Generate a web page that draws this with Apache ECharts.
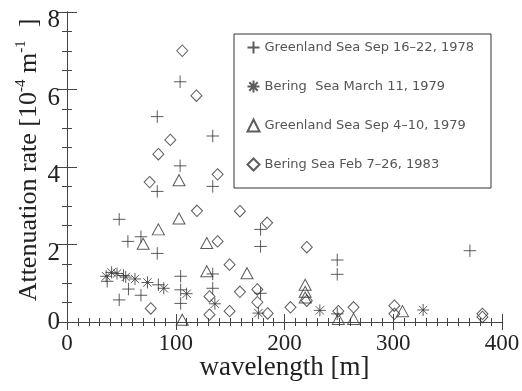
<!DOCTYPE html>
<html>
<head>
<meta charset="utf-8">
<script src="https://cdn.jsdelivr.net/npm/echarts@6/dist/echarts.min.js"></script>
<style>
html, body { margin: 0; padding: 0; background: #fff; }
#chart { width: 522px; height: 391px; }
</style>
</head>
<body>
<div id="chart"></div>
<script>
// Campaign names shown in the legend
const campaignNames = [
  'Greenland Sea Sep 16\u201322, 1978',
  'Bering  Sea March 11, 1979',
  'Greenland Sea Sep 4\u201310, 1979',
  'Bering Sea Feb 7\u201326, 1983'
];

// [wavelength (m), attenuation rate (1e-4 / m)]
const greenland1978 = [
  [104, 6.2], [83, 5.3], [134, 4.8], [104, 4.03], [134, 3.5], [83, 3.37],
  [48, 2.65], [56, 2.08], [68, 2.2], [83, 1.77], [178, 2.39], [178, 1.95],
  [370.5, 1.84], [248.5, 1.6], [248.5, 1.23], [134, 1.24], [104.5, 1.18],
  [104.5, 0.83], [104.5, 0.48], [134, 0.87], [178, 0.74], [56.5, 0.85],
  [68, 0.69], [48, 0.57], [84, 0.96], [248.5, 0.21], [37, 1.05], [52, 1.2]
];
const bering1979 = [
  [36, 1.18], [41, 1.28], [46, 1.25], [54, 1.16], [62.5, 1.11], [74, 1.02],
  [89, 0.87], [110, 0.73], [136, 0.47], [176, 0.23], [232.5, 0.3], [327.5, 0.31]
];
const greenland1979 = [
  [103, 3.66], [103, 2.67], [84, 2.39], [70, 2.02], [128.5, 2.04], [128.5, 1.31],
  [165.5, 1.26], [219, 0.96], [219, 0.78], [219, 0.63], [106, 0.06],
  [249.5, 0.08], [263.5, 0.08], [308.5, 0.28]
];
const bering1983 = [
  [106, 7.0], [119, 5.84], [95, 4.7], [84, 4.33], [138.5, 3.81], [76, 3.61],
  [119.5, 2.87], [159, 2.86], [138.5, 2.08], [184, 2.56], [220.5, 1.93],
  [149.5, 1.48], [175, 0.84], [159, 0.78], [131, 0.66], [131, 0.19],
  [149.5, 0.28], [77, 0.35], [175, 0.51], [184.5, 0.22], [205.5, 0.38],
  [220.5, 0.55], [249.5, 0.28], [263.5, 0.38], [301, 0.42], [301, 0.21],
  [382, 0.21], [382, 0.13]
];

// Axis tick labels
const xTickLabels = [0, 100, 200, 300, 400];
const yTickLabels = [0, 2, 4, 6, 8];

const ink = '#333';
const axisInk = '#444';
const serif = '"Liberation Serif", "DejaVu Serif", serif';

const plusPath = 'path://M0,5L10,5M5,0L5,10';
const starPath = 'path://M0,5L10,5M5,0L5,10M1.5,1.5L8.5,8.5M1.5,8.5L8.5,1.5';

function xAxisCfg(isMain) {
  return {
    type: 'value',
    position: isMain ? 'bottom' : 'top',
    min: xTickLabels[0],
    max: xTickLabels[xTickLabels.length - 1],
    interval: xTickLabels[1] - xTickLabels[0],
    axisLine: { show: true, lineStyle: { color: axisInk, width: 1 } },
    axisTick: { show: true, inside: true, length: 8, lineStyle: { color: axisInk } },
    minorTick: { show: true, splitNumber: 10, length: 4, lineStyle: { color: axisInk } },
    splitLine: { show: false },
    axisLabel: {
      show: isMain, margin: 10, color: '#222', fontFamily: serif, fontSize: 23
    },
    name: isMain ? 'wavelength [m]' : '',
    nameLocation: 'middle',
    nameGap: 32,
    nameMoveOverlap: false,
    nameTextStyle: { color: '#222', fontFamily: serif, fontSize: 27 }
  };
}

function yAxisCfg(isMain) {
  return {
    type: 'value',
    position: isMain ? 'left' : 'right',
    min: yTickLabels[0],
    max: yTickLabels[yTickLabels.length - 1],
    interval: yTickLabels[1] - yTickLabels[0],
    axisLine: { show: true, lineStyle: { color: axisInk, width: 1 } },
    axisTick: { show: true, inside: true, length: 10, lineStyle: { color: axisInk } },
    minorTick: { show: true, splitNumber: 4, length: 5, lineStyle: { color: axisInk } },
    splitLine: { show: false },
    axisLabel: {
      show: isMain, margin: 7, color: '#222', fontFamily: serif, fontSize: 25,
      // non-zero labels sit a little below their ticks
      formatter: v => (v === 0 ? '{z|' + v + '}' : '{sp| }{d|' + v + '}'),
      rich: {
        z: { fontFamily: serif, fontSize: 25, color: '#222' },
        sp: { fontSize: 2, lineHeight: 42 },
        d: { fontFamily: serif, fontSize: 25, color: '#222', lineHeight: 25, verticalAlign: 'bottom' }
      }
    },
    name: isMain ? '{n|Attenuation rate [10}{s|-4}{n| m}{s|-1}{n|  ]}' : '',
    nameLocation: 'middle',
    nameRotate: 90,
    nameGap: 25,
    nameMoveOverlap: false,
    nameTextStyle: {
      padding: [0, 0, 0, 14],
      rich: {
        n: { fontFamily: serif, fontSize: 26, color: '#222', lineHeight: 28, verticalAlign: 'bottom' },
        s: { fontFamily: serif, fontSize: 15, color: '#222', lineHeight: 15, verticalAlign: 'top' }
      }
    }
  };
}

function scatter(name, data, symbol, size) {
  return {
    type: 'scatter',
    name: name,
    data: data,
    xAxisIndex: 0,
    yAxisIndex: 0,
    symbol: symbol,
    symbolSize: size,
    clip: false,
    itemStyle: { color: 'none', borderColor: ink, borderWidth: 1 },
    emphasis: { disabled: true }
  };
}

const chart = echarts.init(document.getElementById('chart'), null, { renderer: 'canvas' });
chart.setOption({
  animation: false,
  backgroundColor: '#fff',
  grid: { left: 67, right: 20, top: 12, bottom: 69, outerBoundsMode: 'none' },
  xAxis: [xAxisCfg(true), xAxisCfg(false)],
  yAxis: [yAxisCfg(true), yAxisCfg(false)],
  legend: {
    orient: 'vertical',
    left: 234,
    top: 34,
    padding: [5, 17, 15, 11],
    itemGap: 22,
    itemWidth: 12,
    itemHeight: 12,
    borderColor: ink,
    borderWidth: 1,
    selectedMode: false,
    textStyle: { fontFamily: '"DejaVu Sans", sans-serif', fontSize: 13, color: '#555', lineHeight: 12 },
    data: campaignNames
  },
  series: [
    scatter(campaignNames[0], greenland1978, plusPath, 12.5),
    scatter(campaignNames[1], bering1979, starPath, 12),
    scatter(campaignNames[2], greenland1979, 'triangle', [12, 11]),
    scatter(campaignNames[3], bering1983, 'diamond', [11, 11.5])
  ]
});
</script>
</body>
</html>
